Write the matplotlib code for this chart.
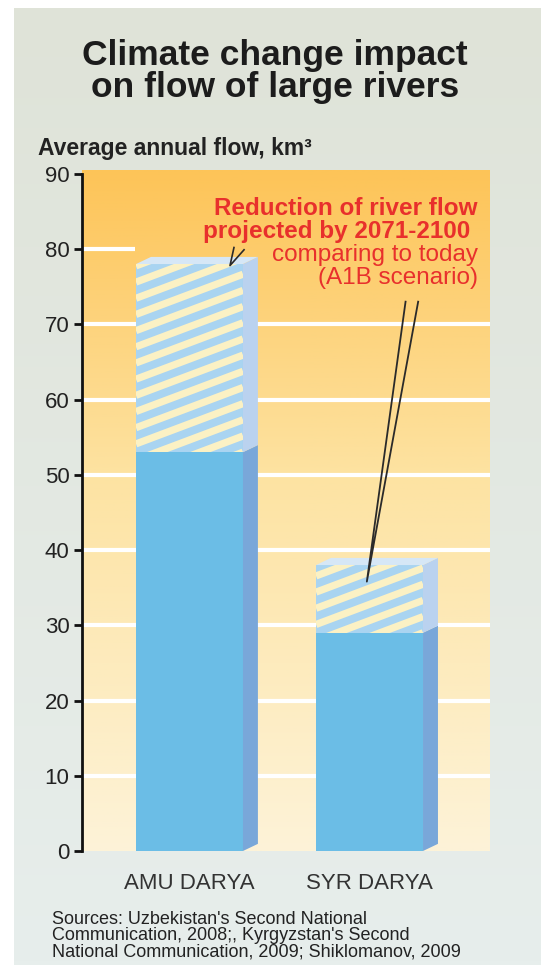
import numpy as np
import matplotlib
matplotlib.use('Agg')
import matplotlib.pyplot as plt
from matplotlib.patches import Polygon
from matplotlib.colors import LinearSegmentedColormap

plt.rcParams['font.family'] = ['Liberation Sans', 'DejaVu Sans']

# Data (km3 per year)
rivers = ['AMU DARYA', 'SYR DARYA']
flow_today = [78, 38]          # total bar height (today)
flow_future = [53, 29]         # projected 2071-2100
yticks = [0, 10, 20, 30, 40, 50, 60, 70, 80, 90]

W, H = 541, 965
fig = plt.figure(figsize=(W / 100, H / 100), dpi=100)
fig.patch.set_facecolor('white')

# grey background panel
bg = fig.add_axes([14 / W, 0, 1 - 14 / W, 1 - 8 / H])
grad = np.linspace(0, 1, 256).reshape(-1, 1)
bg_cmap = LinearSegmentedColormap.from_list('bg', ['#dfe3d8', '#e7eeec'])
bg.imshow(grad, cmap=bg_cmap, aspect='auto', extent=[0, 1, 0, 1], origin='upper')
bg.set_axis_off()

# main axes
ax = fig.add_axes([82 / W, 1 - 851 / H, (490 - 82) / W, (851 - 170) / H])
ax.set_xlim(-0.597, 1.669)
ax.set_ylim(0, 90.5)
ax.patch.set_alpha(0)

plot_cmap = LinearSegmentedColormap.from_list(
    'sky', [(0, '#fdc458'), (0.45, '#fde3a2'), (1, '#fdf3d8')])
ax.imshow(grad, cmap=plot_cmap, aspect='auto', extent=[-0.597, 1.669, 0, 90.5],
          origin='upper', zorder=0)

# white gridlines
for t in yticks[1:-1]:
    if t == 80:
        ax.hlines(t, -0.597, -0.3, color='white', lw=3, zorder=1)
    else:
        ax.axhline(t, color='white', lw=3, zorder=1)

x = np.arange(len(rivers))
bw = 0.594
dx, dy = 0.083, 0.95   # 3D depth offset

for xi, tot, fut in zip(x, flow_today, flow_future):
    xl, xr = xi - bw / 2, xi + bw / 2
    # solid (future) part
    ax.bar(xi, fut, width=bw, color='#6bbde6', zorder=3)
    ax.add_patch(Polygon([[xr, 0], [xr + dx, dy], [xr + dx, fut + dy], [xr, fut]],
                         closed=True, fc='#79a7d9', ec='none', zorder=3))
    # reduction part
    hb = ax.bar(xi, tot - fut, bottom=fut, width=bw, color='#a9d4f1', zorder=3)[0]
    ax.add_patch(Polygon([[xr, fut], [xr + dx, fut + dy], [xr + dx, tot + dy], [xr, tot]],
                         closed=True, fc='#bad2ef', ec='none', zorder=3))
    ax.add_patch(Polygon([[xl, tot], [xl + dx, tot + dy], [xr + dx, tot + dy], [xr, tot]],
                         closed=True, fc='#d6e7f6', ec='none', zorder=3))
    # diagonal stripes
    slope = 9.0
    period = 2.15
    for k in np.arange(fut - slope * bw - period, tot + period, period):
        ln, = ax.plot([xl, xr], [k, k + slope * bw], color='#fbf1c4', lw=5.2,
                      solid_capstyle='butt', zorder=4)
        ln.set_clip_path(hb)

# pointers from the annotation
ax_a = x[0] + 0.225
ay_a = flow_today[0] - 0.2
ax.plot([ax_a + 0.022, ax_a, ax_a + 0.078], [flow_today[0] + 2.2, ay_a, flow_today[0] + 1.9],
        color='#2a2a2a', lw=1.2, zorder=6)
ax_s = x[1] - 0.015
ay_s = flow_today[1] - 2.2
ax.plot([x[1] + 0.2, ax_s, x[1] + 0.27], [73.0, ay_s, 73.0],
        color='#2a2a2a', lw=1.3, zorder=6)

# axis styling
for s in ['top', 'right', 'bottom']:
    ax.spines[s].set_visible(False)
ax.spines['left'].set_bounds(0, 90)
ax.spines['left'].set_linewidth(2)
ax.spines['left'].set_color('#111111')
ax.set_yticks(yticks)
ax.set_yticklabels([str(t) for t in yticks], fontsize=16, color='#222222')
ax.tick_params(axis='y', length=6, width=2, color='#111111', pad=3)
ax.set_xticks(x)
ax.set_xticklabels(rivers, fontsize=16, color='#333333')
ax.tick_params(axis='x', length=0, pad=16)

# texts
fig.text(275 / W, 1 - 65 / H, 'Climate change impact', ha='center', va='baseline',
         fontsize=25.5, fontweight='bold', color='#1c1c1c')
fig.text(275 / W, 1 - 97 / H, 'on flow of large rivers', ha='center', va='baseline',
         fontsize=25.5, fontweight='bold', color='#1c1c1c')
fig.text(38 / W, 1 - 155 / H, 'Average annual flow, km³', ha='left', va='baseline',
         fontsize=16.5, fontweight='bold', color='#222222')

red = '#e8302c'
fig.text(478 / W, 1 - 215 / H, 'Reduction of river flow', ha='right', va='baseline',
         fontsize=17.5, fontweight='bold', color=red)
fig.text(470 / W, 1 - 238 / H, 'projected by 2071-2100', ha='right', va='baseline',
         fontsize=17.5, fontweight='bold', color=red)
fig.text(478 / W, 1 - 261 / H, 'comparing to today', ha='right', va='baseline',
         fontsize=17.5, color=red)
fig.text(478 / W, 1 - 284 / H, '(A1B scenario)', ha='right', va='baseline',
         fontsize=17.5, color=red)

fig.text(52 / W, 1 - 936 / H,
         "Sources: Uzbekistan's Second National\n"
         "Communication, 2008;, Kyrgyzstan's Second\n"
         "National Communication, 2009; Shiklomanov, 2009",
         ha='left', va='center', fontsize=13, color='#222222', linespacing=0.93)

fig.savefig('out.png', dpi=100)
